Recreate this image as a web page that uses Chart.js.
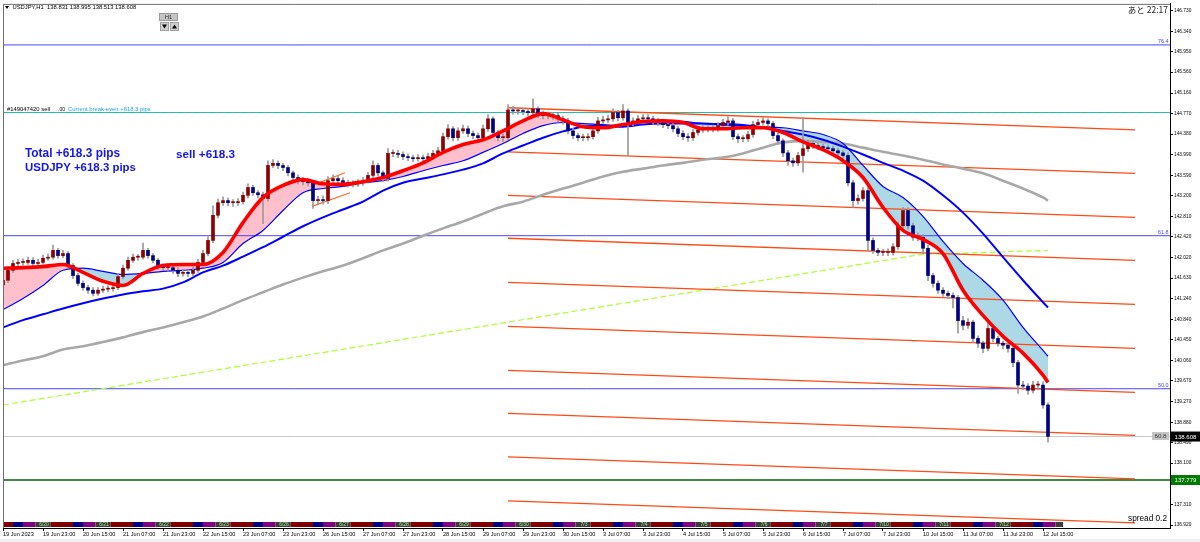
<!DOCTYPE html>
<html><head><meta charset="utf-8">
<script src="https://cdn.jsdelivr.net/npm/chart.js@4.4.0/dist/chart.umd.min.js"></script>
<style>html,body{margin:0;padding:0;background:#fff;overflow:hidden}#wrap{width:1200px;height:542px}</style>
</head><body><div id="wrap"><canvas id="c" width="1200" height="542"></canvas></div>
<script>
// ---------- DATA ----------
const xTickLabels = ["19 Jun 2023","19 Jun 23:00","20 Jun 15:00","21 Jun 07:00","21 Jun 23:00","22 Jun 15:00","23 Jun 07:00","23 Jun 23:00","26 Jun 15:00","27 Jun 07:00","27 Jun 23:00","28 Jun 15:00","29 Jun 07:00","29 Jun 23:00","30 Jun 15:00","3 Jul 07:00","3 Jul 23:00","4 Jul 15:00","5 Jul 07:00","5 Jul 23:00","6 Jul 15:00","7 Jul 07:00","7 Jul 23:00","10 Jul 15:00","11 Jul 07:00","11 Jul 23:00","12 Jul 15:00"];
const yTickValues = [146.730,146.340,145.950,145.560,145.160,144.770,144.380,143.990,143.590,143.200,142.810,142.420,142.020,141.630,141.240,140.840,140.450,140.060,139.670,139.270,138.880,138.490,138.100,137.700,137.310,136.920];
const sessionLabels = ["6/20","6/21","6/22","6/23","6/26","6/27","6/28","6/29","6/30","7/3","7/4","7/5","7/6","7/7","7/10","7/11","7/12"];

const firstOpen = 141.50;
const closes = [
141.59,141.78,141.91,141.93,141.93,141.97,141.91,141.93,142.01,142.03,
142.16,142.06,142.10,141.87,141.68,141.53,141.45,141.40,141.34,141.40,
141.42,141.43,141.45,141.66,141.82,141.97,142.03,142.03,142.16,142.06,
141.97,141.85,141.83,141.83,141.78,141.72,141.74,141.72,141.78,141.93,
142.10,142.35,142.83,143.07,143.11,143.07,143.07,143.09,143.21,143.36,
143.26,143.22,143.15,143.78,143.82,143.78,143.74,143.64,143.55,143.49,
143.47,143.45,143.11,143.13,143.11,143.49,143.53,143.49,143.45,143.43,
143.43,143.45,143.49,143.59,143.78,143.64,143.53,144.01,144.01,143.99,
143.95,143.93,143.91,143.93,143.91,143.95,144.01,144.06,144.33,144.48,
144.31,144.44,144.48,144.39,144.35,144.31,144.48,144.67,144.41,144.31,
144.31,144.84,144.82,144.82,144.81,144.79,144.86,144.75,144.73,144.73,
144.73,144.67,144.63,144.44,144.35,144.31,144.31,144.33,144.44,144.63,
144.65,144.67,144.79,144.69,144.82,144.60,144.63,144.67,144.69,144.67,
144.63,144.60,144.56,144.54,144.48,144.39,144.33,144.31,144.41,144.46,
144.48,144.48,144.48,144.54,144.60,144.63,144.33,144.29,144.29,144.37,
144.56,144.60,144.63,144.58,144.35,144.25,144.02,143.87,143.83,143.97,
144.10,144.20,144.16,144.14,144.12,144.10,144.06,144.02,143.97,143.45,
143.11,143.15,143.30,142.35,142.16,142.12,142.12,142.12,142.23,142.63,
142.92,142.63,142.41,142.41,142.20,141.68,141.53,141.40,141.34,141.30,
141.26,140.82,140.73,140.79,140.48,140.39,140.29,140.67,140.48,140.39,
140.35,140.29,140.02,139.59,139.57,139.49,139.59,139.59,139.21,138.61];
const highs = [
141.66,141.84,141.97,141.99,142.00,142.03,142.02,141.99,142.07,142.09,
142.26,142.20,142.16,142.14,141.91,141.72,141.58,141.50,141.45,141.45,
141.48,141.49,141.51,141.72,141.88,142.03,142.09,142.08,142.30,142.20,
142.10,142.01,141.90,141.89,141.88,141.83,141.80,141.79,141.84,141.99,
142.16,142.42,143.01,143.14,143.18,143.16,143.13,143.15,143.27,143.43,
143.40,143.30,143.27,143.87,143.89,143.87,143.82,143.78,143.68,143.60,
143.55,143.52,143.40,143.19,143.20,143.57,143.60,143.58,143.55,143.50,
143.49,143.51,143.55,143.65,143.87,143.82,143.68,144.10,144.08,144.07,
144.04,144.00,143.98,143.99,143.98,144.01,144.07,144.13,144.40,144.56,
144.52,144.50,144.55,144.53,144.44,144.40,144.55,144.75,144.71,144.45,
144.38,144.94,144.91,144.88,144.88,144.86,145.05,144.90,144.81,144.80,
144.79,144.78,144.72,144.68,144.49,144.40,144.38,144.39,144.50,144.70,
144.72,144.74,144.86,144.83,144.94,144.86,144.69,144.73,144.75,144.75,
144.72,144.68,144.65,144.62,144.59,144.53,144.44,144.39,144.47,144.52,
144.54,144.54,144.55,144.60,144.66,144.71,144.68,144.38,144.35,144.43,
144.62,144.66,144.69,144.67,144.62,144.40,144.29,144.07,143.92,144.03,
144.69,144.26,144.25,144.21,144.19,144.17,144.15,144.11,144.07,144.02,
143.50,143.22,143.36,143.36,142.40,142.20,142.18,142.19,142.29,142.70,
142.98,142.97,142.68,142.49,142.46,142.26,141.72,141.58,141.45,141.39,
141.35,141.30,140.90,140.86,140.83,140.53,140.43,140.82,140.71,140.52,
140.43,140.39,140.34,140.06,139.66,139.62,139.66,139.66,139.65,139.25];
const lows = [
141.44,141.55,141.74,141.86,141.88,141.89,141.86,141.87,141.89,141.97,
141.99,142.01,142.02,141.82,141.62,141.48,141.40,141.34,141.29,141.30,
141.36,141.37,141.38,141.41,141.62,141.78,141.93,141.97,141.99,142.01,
141.92,141.80,141.78,141.77,141.72,141.66,141.67,141.66,141.67,141.74,
141.89,142.06,142.30,142.78,143.02,143.01,143.00,143.02,143.04,143.16,
143.21,143.16,142.67,143.10,143.74,143.72,143.68,143.58,143.49,143.43,
143.41,143.39,142.96,143.03,143.04,143.05,143.43,143.43,143.39,143.37,
143.37,143.38,143.40,143.44,143.54,143.58,143.47,143.48,143.95,143.93,
143.89,143.87,143.85,143.86,143.85,143.86,143.90,143.96,144.01,144.28,
144.25,144.26,144.39,144.33,144.29,144.25,144.26,144.43,144.35,144.25,
144.24,144.27,144.76,144.76,144.75,144.73,144.73,144.69,144.67,144.67,
144.66,144.61,144.57,144.38,144.29,144.25,144.25,144.26,144.28,144.39,
144.58,144.60,144.62,144.63,144.64,143.97,144.54,144.58,144.62,144.61,
144.57,144.54,144.50,144.48,144.42,144.33,144.27,144.24,144.26,144.36,
144.41,144.42,144.42,144.43,144.49,144.55,144.27,144.22,144.23,144.24,
144.32,144.51,144.55,144.52,144.29,144.19,143.95,143.78,143.76,143.78,
143.65,144.05,144.10,144.08,144.06,144.04,144.00,143.96,143.91,143.39,
142.98,143.04,143.10,142.15,142.10,142.06,142.06,142.06,142.07,142.18,
142.58,142.57,142.35,142.34,142.10,141.58,141.46,141.34,141.28,141.24,
141.06,140.58,140.64,140.67,140.40,140.31,140.21,140.24,140.42,140.33,
140.28,140.22,139.94,139.43,139.50,139.41,139.44,139.52,139.15,138.50];

const maHours = [0,8,16,24,32,40,48,56,64,72,80,88,96,104,112,120,128,136,144,152,160,168,176,184,192,200,208,216,224,232,240,248,256,264,272,280,288,296,304,312,320,328,336,344,352,360,368,376,384,392,400,408,416,418];
const redMA = [141.82,141.83,141.85,141.89,141.74,141.57,141.49,141.72,141.87,141.89,141.89,142.12,142.69,143.17,143.40,143.51,143.43,143.42,143.47,143.55,143.68,143.83,144.03,144.18,144.27,144.44,144.63,144.77,144.65,144.52,144.50,144.56,144.62,144.63,144.60,144.48,144.48,144.50,144.50,144.41,144.23,144.08,143.87,143.55,142.98,142.54,142.37,142.10,141.40,140.92,140.52,140.20,139.78,139.64];
const thinBlueMA = [141.03,141.24,141.49,141.78,141.82,141.76,141.70,141.72,141.76,141.78,141.82,141.93,142.29,142.54,142.92,143.26,143.34,143.38,143.45,143.49,143.57,143.68,143.78,143.87,144.03,144.20,144.39,144.54,144.60,144.58,144.56,144.54,144.60,144.63,144.62,144.58,144.58,144.56,144.52,144.50,144.44,144.37,144.20,143.78,143.38,143.17,142.81,142.33,141.91,141.59,141.21,140.69,140.25,140.14];
const thickBlueMA = [140.69,140.83,140.94,141.05,141.15,141.24,141.32,141.38,141.43,141.55,141.74,141.87,142.04,142.22,142.42,142.62,142.79,142.94,143.09,143.30,143.45,143.53,143.61,143.70,143.82,144.01,144.16,144.31,144.43,144.52,144.54,144.52,144.56,144.58,144.58,144.58,144.56,144.54,144.50,144.44,144.37,144.27,144.14,143.99,143.83,143.68,143.49,143.21,142.88,142.48,142.03,141.59,141.17,141.07];
const grayMA = [139.97,140.06,140.14,140.27,140.33,140.41,140.50,140.60,140.69,140.79,140.90,141.05,141.21,141.36,141.51,141.64,141.76,141.87,142.01,142.16,142.29,142.44,142.58,142.71,142.86,143.00,143.09,143.22,143.34,143.45,143.57,143.66,143.72,143.78,143.83,143.89,143.93,144.01,144.12,144.22,144.25,144.23,144.20,144.12,144.04,143.97,143.89,143.80,143.72,143.63,143.49,143.34,143.17,143.11];

const channelStartH = [202,202,202,202,202,202,202,202,202,202];
const channelEndH   = [452.8,452.8,452.8,452.8,452.8,452.8,452.8,452.8,452.8,452.8];
const channelStartP = [144.88,144.04,143.21,142.39,141.55,140.71,139.87,139.05,138.22,137.38];
const channelEndP   = [144.46,143.63,142.79,141.97,141.13,140.29,139.45,138.63,137.80,136.96];
const smallChannelH = [[123.6,136.8],[123.6,138.8]];
const smallChannelP = [[143.40,143.64],[143.00,143.26]];
const trendH = [0,366.8,418];
const trendP = [139.21,142.08,142.16];

const fibLevels = [146.08,142.44,139.52];
const fibLabels = ["76.4","61.8","50.0"];
const breakEven = 144.79;
const currentPrice = 138.608;
const stopLevel = 137.779;
const headerText = "USDJPY,H1  138.831 138.995 138.513 138.608";

// ---------- derived tables ----------
const X_MIN = 0, X_MAX = 466.8;
const candleHours = closes.map((c, i) => i * 2);
const opens = closes.map((c, i) => i === 0 ? firstOpen : closes[i - 1]);
const xTickHours = xTickLabels.map((l, i) => i * 16);
const pts = (hs, ps) => hs.map((h, i) => ({x: h, y: ps[i]}));
const hline = (p) => [{x: X_MIN, y: p}, {x: X_MAX, y: p}];
const lineDs = (data, color, width, extra) => Object.assign({type: 'line', data, borderColor: color, borderWidth: width, pointRadius: 0, fill: false, tension: 0}, extra || {});

const FONT = '"Liberation Sans", Arial, sans-serif';
const datasets = [
  lineDs(pts(maHours, redMA), '#ff0000', 3.6, {cubicInterpolationMode: 'monotone', fill: {target: 3, above: '#ffc0cb', below: '#add8e6'}}),
  {type: 'bar', data: closes.map((c, i) => ({x: candleHours[i], y: [opens[i], c]})),
   backgroundColor: closes.map((c, i) => c >= opens[i] ? '#8b0000' : '#000080'),
   barThickness: 3, minBarLength: 1, grouped: false},
  {type: 'bar', data: closes.map((c, i) => ({x: candleHours[i], y: [lows[i], highs[i]]})),
   backgroundColor: '#9a9a9a', barThickness: 1, grouped: false},
  lineDs(pts(maHours, thinBlueMA), '#0000ff', 1.2, {cubicInterpolationMode: 'monotone'}),
  lineDs(pts(maHours, thickBlueMA), '#0000ff', 2, {cubicInterpolationMode: 'monotone'}),
  lineDs(pts(maHours, grayMA), '#a8a8a8', 2.6, {cubicInterpolationMode: 'monotone'})
];
channelStartH.forEach((h, k) => datasets.push(lineDs([{x: h, y: channelStartP[k]}, {x: channelEndH[k], y: channelEndP[k]}], '#ff4a14', 1.4)));
smallChannelH.forEach((hs, k) => datasets.push(lineDs(pts(hs, smallChannelP[k]), '#ff6a20', 1.2)));
datasets.push(lineDs(pts(trendH, trendP), '#adff2f', 1.2, {borderDash: [6, 3]}));
datasets.push(lineDs(hline(breakEven), '#3cb371', 1, {borderDash: [4, 4]}));
datasets.push(lineDs(hline(breakEven), '#00c8e0', 1, {borderDash: [4, 4], borderDashOffset: 4}));
fibLevels.forEach(p => datasets.push(lineDs(hline(p), '#4646ff', 1)));
datasets.push(lineDs(hline(currentPrice), '#c8c8c8', 1));
datasets.push(lineDs(hline(stopLevel), '#006400', 1.3));

function fit(c, text, width, style) {
  c.font = style + ' 20px ' + FONT;
  const w = c.measureText(text).width;
  c.font = style + ' ' + (20 * width / w).toFixed(2) + 'px ' + FONT;
}

const overlay = {
  id: 'overlay',
  beforeDraw(chart) {
    const c = chart.ctx; c.save(); c.fillStyle = '#fff'; c.fillRect(0, 0, chart.width, chart.height); c.restore();
  },
  afterDraw(chart) {
    const c = chart.ctx, xs = chart.scales.x, ys = chart.scales.y, a = chart.chartArea;
    c.save();
    // session strip
    const segStart = [2, 11, 15, 20], segEnd = [11, 15, 20, 26];
    const segColor = ['#800000', '#000080', '#800080', '#3c3c3c'];
    const stripEndH = 424;
    const yTop = a.bottom - 6, hgt = 5;
    for (let k = 0; k < 18; k++) {
      const d0 = -7 + 24 * k;
      for (let s = 0; s < 4; s++) {
        const h0 = Math.max(0, d0 + segStart[s]), h1 = Math.min(stripEndH, d0 + segEnd[s]);
        if (h1 <= h0) continue;
        const x0 = xs.getPixelForValue(h0), x1 = xs.getPixelForValue(h1);
        c.fillStyle = segColor[s]; c.fillRect(x0, yTop, x1 - x0, hgt);
        if (s === 3 && k < sessionLabels.length) {
          c.font = '5px ' + FONT; c.fillStyle = '#a8e890'; c.textAlign = 'center'; c.textBaseline = 'middle';
          c.fillText(sessionLabels[k], (x0 + x1) / 2 + 1, yTop + 2.6);
        }
      }
    }
    // frame
    c.strokeStyle = '#707070'; c.lineWidth = 1;
    c.beginPath(); c.moveTo(a.left + 0.5, a.bottom); c.lineTo(a.left + 0.5, a.top + 0.5); c.lineTo(a.right, a.top + 0.5); c.stroke();
    c.textAlign = 'left'; c.textBaseline = 'alphabetic';
    // header
    c.fillStyle = '#000';
    c.beginPath(); c.moveTo(5, 6); c.lineTo(9, 6); c.lineTo(7, 9); c.closePath(); c.fill();
    fit(c, headerText, 124, ''); c.fillText(headerText, 12.5, 9.3);
    // H1 buttons
    c.fillStyle = '#c4c4c4'; c.fillRect(159, 13, 19, 8); c.strokeStyle = '#9a9a9a'; c.strokeRect(159.5, 13.5, 18, 7);
    c.fillStyle = '#222'; c.font = '5.5px ' + FONT; c.textAlign = 'center'; c.fillText('H1', 168.5, 19.3);
    c.fillStyle = '#d0d0d0'; c.fillRect(160, 22, 9, 9); c.fillRect(170, 22, 9, 9);
    c.strokeStyle = '#a0a0a0'; c.strokeRect(160.5, 22.5, 8, 8); c.strokeRect(170.5, 22.5, 8, 8);
    c.fillStyle = '#000';
    c.beginPath(); c.moveTo(162, 24.5); c.lineTo(167, 24.5); c.lineTo(164.5, 28.5); c.closePath(); c.fill();
    c.beginPath(); c.moveTo(172, 28.5); c.lineTo(177, 28.5); c.lineTo(174.5, 24.5); c.closePath(); c.fill();
    // remaining time
    c.textAlign = 'right'; c.fillStyle = '#222';
    c.font = '8.5px "Noto Sans CJK JP", ' + FONT; c.fillText('あと 22:17', 1168, 13);
    // break-even label
    const yBE = ys.getPixelForValue(breakEven);
    c.textAlign = 'left';
    c.fillStyle = '#000'; fit(c, '#149047420 sell', 43, ''); c.fillText('#149047420 sell', 7, yBE - 1.5);
    fit(c, '.00', 7, ''); c.fillText('.00', 58, yBE - 1.5);
    c.fillStyle = '#1aa6e8'; fit(c, 'Current break-even +618.3 pips', 83, ''); c.fillText('Current break-even +618.3 pips', 68, yBE - 1.5);
    // profit texts
    c.fillStyle = '#1414ec';
    fit(c, 'Total +618.3 pips', 95, 'bold'); c.fillText('Total +618.3 pips', 25, 157);
    fit(c, 'USDJPY +618.3 pips', 111, 'bold'); c.fillText('USDJPY +618.3 pips', 25, 170.5);
    fit(c, 'sell +618.3', 59, 'bold'); c.fillText('sell +618.3', 176, 158);
    // fib labels
    c.textAlign = 'right'; c.fillStyle = '#4646ff';
    fibLevels.forEach((p, i) => { fit(c, fibLabels[i], 10.5, ''); c.fillText(fibLabels[i], a.right - 1.5, ys.getPixelForValue(p) - 1.5); });
    // current price tag inside chart
    const yCP = ys.getPixelForValue(currentPrice);
    c.fillStyle = '#c4c4c4'; c.fillRect(a.right - 18, yCP - 4.5, 17, 8);
    c.fillStyle = '#333'; c.textAlign = 'center'; c.textBaseline = 'middle'; fit(c, '60.8', 12, ''); c.fillText('60.8', a.right - 9.5, yCP);
    // axis price boxes
    const boxes = [[currentPrice, '138.608', '#000000'], [stopLevel, '137.779', '#007a00']];
    boxes.forEach(([p, t, col]) => {
      const y = ys.getPixelForValue(p);
      c.fillStyle = col; c.fillRect(a.right + 1, y - 5, 29, 10);
      c.fillStyle = '#fff'; fit(c, t, 22, ''); c.fillText(t, a.right + 15.5, y + 0.3);
    });
    // spread
    c.textAlign = 'right'; c.textBaseline = 'alphabetic'; c.fillStyle = '#000';
    fit(c, 'spread 0.2', 39, ''); c.fillText('spread 0.2', 1167, 521);
    // bottom light band
    c.fillStyle = '#f0f0f0'; c.fillRect(0, 539, chart.width, 3);
    c.restore();
  }
};

new Chart(document.getElementById('c'), {
  type: 'bar',
  data: {datasets},
  options: {
    responsive: false, animation: false, devicePixelRatio: 1,
    layout: {padding: {left: 3, top: 3, right: 0, bottom: 0}},
    plugins: {legend: {display: false}, tooltip: {enabled: false}, filler: {drawTime: 'beforeDatasetsDraw'}},
    scales: {
      x: {type: 'linear', min: X_MIN, max: X_MAX, offset: false,
          grid: {display: true, drawOnChartArea: false, drawTicks: true, tickLength: 3, color: '#000', offset: false},
          border: {display: true, color: '#000', width: 1},
          ticks: {autoSkip: false, maxRotation: 0, minRotation: 0, align: 'start', padding: 0, color: '#000',
                  font: {family: FONT, size: 5.6}, callback: (v, i) => xTickLabels[i]},
          afterBuildTicks: s => { s.ticks = xTickHours.map(v => ({value: v})); },
          afterFit: s => { s.height = 14; }},
      y: {type: 'linear', position: 'right', min: 136.863, max: 146.863,
          grid: {display: true, drawOnChartArea: false, drawTicks: true, tickLength: 3, color: '#000'},
          border: {display: true, color: '#000', width: 1},
          ticks: {autoSkip: false, padding: 1, color: '#000', font: {family: FONT, size: 4.8},
                  callback: v => Number(v).toFixed(3)},
          afterBuildTicks: s => { s.ticks = yTickValues.map(v => ({value: v})); },
          afterFit: s => { s.width = 30; }}
    }
  },
  plugins: [overlay]
});
</script></body></html>
